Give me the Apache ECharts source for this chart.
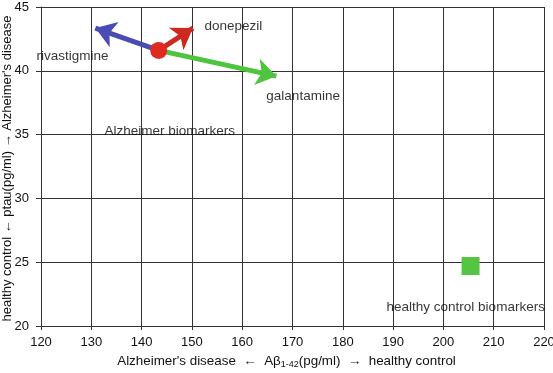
<!DOCTYPE html>
<html><head><meta charset="utf-8">
<script src="https://cdn.jsdelivr.net/npm/echarts@6/dist/echarts.min.js"></script>
<style>html,body{margin:0;padding:0;background:#fff}#c{width:553px;height:373px}</style>
</head><body><div id="c"></div>
<script>
// Data
const xTicks = [120, 130, 140, 150, 160, 170, 180, 190, 200, 210, 220];
const yTicks = [20, 25, 30, 35, 40, 45];
const alzheimerPoint = [143.4, 41.6];
const healthyPoint = [205.4, 24.7];
const arrowNames = ['rivastigmine', 'donepezil', 'galantamine'];
const arrowEnds = [[130.8, 43.35], [150.2, 43.35], [166.8, 39.58]];
const arrowColors = ['#4b4bb4', '#cc2a1e', '#4fc43f'];
const labelTexts = ['donepezil', 'rivastigmine', 'galantamine', 'Alzheimer biomarkers', 'healthy control biomarkers'];
const labelPositions = [[152.5, 43.5], [119.1, 41.1], [164.8, 38.0], [132.6, 35.25], [188.7, 21.45]];

const font = 'Liberation Sans, Arial, sans-serif';
const chart = echarts.init(document.getElementById('c'));
chart.setOption({
  animation: false,
  backgroundColor: '#fff',
  grid: { left: 41, right: 9, top: 7, bottom: 47, containLabel: false, outerBoundsMode: 'none' },
  xAxis: {
    type: 'value', min: xTicks[0], max: xTicks[xTicks.length - 1], interval: 10,
    axisLine: { show: true, lineStyle: { color: '#333', width: 1 } },
    axisTick: { show: true, length: 4, lineStyle: { color: '#333' } },
    axisLabel: { color: '#111', fontSize: 13, fontFamily: font, margin: 10 },
    splitLine: { show: true, lineStyle: { color: '#333', width: 1 } },
    name: '{t|Alzheimer\'s disease  ←  Aβ}{s|1-42}{t|(pg/ml)  →  healthy control}',
    nameLocation: 'middle', nameGap: 28, nameMoveOverlap: false,
    nameTextStyle: {
      padding: [0, 12, 0, 0],
      rich: {
        t: { fontSize: 13.4, fontFamily: font, color: '#111' },
        s: { fontSize: 9, fontFamily: font, color: '#111', verticalAlign: 'bottom', padding: [6, 0, 0, 0] }
      }
    }
  },
  yAxis: {
    type: 'value', min: yTicks[0], max: yTicks[yTicks.length - 1], interval: 5,
    axisLine: { show: true, lineStyle: { color: '#333', width: 1 } },
    axisTick: { show: true, length: 5, lineStyle: { color: '#333' } },
    axisLabel: { color: '#111', fontSize: 13, fontFamily: font, margin: 12 },
    splitLine: { show: true, lineStyle: { color: '#333', width: 1 } },
    name: 'healthy control ← ptau(pg/ml) → Alzheimer\'s disease',
    nameLocation: 'middle', nameGap: 27, nameRotate: 90, nameMoveOverlap: false,
    nameTextStyle: { fontSize: 13, fontFamily: font, color: '#111', padding: [0, 4, 0, 0] }
  },
  series: [
    {
      type: 'lines', coordinateSystem: 'cartesian2d', z: 3,
      symbol: ['none', 'arrow'], symbolSize: 20,
      data: arrowEnds.map((e, i) => ({
        name: arrowNames[i],
        coords: [alzheimerPoint, e],
        lineStyle: { color: arrowColors[i], width: 5, opacity: 1 }
      })),
      lineStyle: { width: 5, opacity: 1 }
    },
    {
      type: 'scatter', z: 4, symbol: 'circle', symbolSize: 17,
      itemStyle: { color: '#e02a20', opacity: 1 },
      data: [alzheimerPoint]
    },
    {
      type: 'scatter', z: 4, symbol: 'rect', symbolSize: 18,
      itemStyle: { color: '#55c443', opacity: 1 },
      data: [healthyPoint]
    },
    {
      type: 'scatter', z: 5, symbolSize: 1, clip: false,
      itemStyle: { color: 'rgba(0,0,0,0)' },
      label: {
        show: true, position: 'inside', align: 'left', verticalAlign: 'middle',
        fontSize: 13.5, fontFamily: font, color: '#000',
        formatter: p => labelTexts[p.dataIndex]
      },
      data: labelPositions
    }
  ]
});
</script></body></html>
